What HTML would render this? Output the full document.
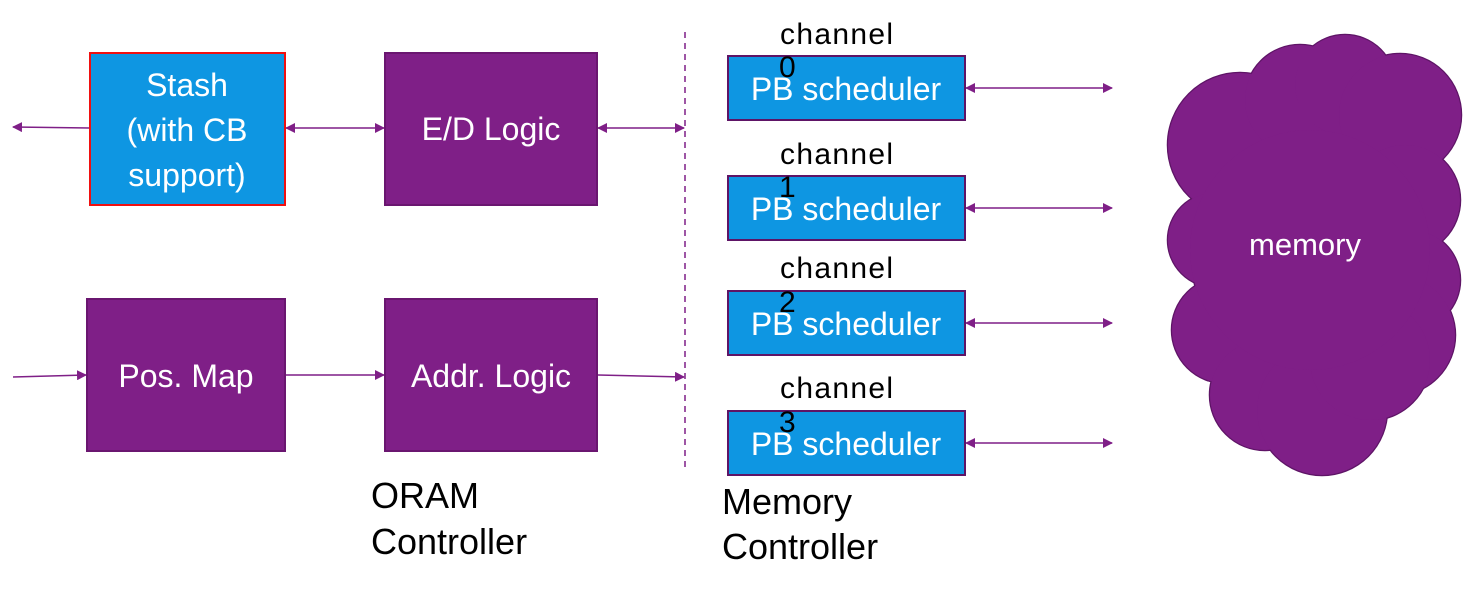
<!DOCTYPE html>
<html><head><meta charset="utf-8"><style>
body{margin:0;background:#fff;}
svg{display:block}
text{font-family:"Liberation Sans",sans-serif}
</style></head><body>
<svg width="1464" height="591" viewBox="0 0 1464 591">
<defs>
<marker id="a" markerWidth="10" markerHeight="10" refX="9" refY="5" orient="auto" markerUnits="userSpaceOnUse"><path d="M0,0 L10,5 L0,10 z" fill="#7f1f87"/></marker>
<marker id="b" markerWidth="10" markerHeight="10" refX="1" refY="5" orient="auto" markerUnits="userSpaceOnUse"><path d="M10,0 L0,5 L10,10 z" fill="#7f1f87"/></marker>
</defs>
<g stroke="#7f1f87" stroke-width="1.5" fill="none">
<line x1="90" y1="128" x2="13" y2="127" marker-end="url(#a)"/>
<line x1="286" y1="128" x2="384" y2="128" marker-start="url(#b)" marker-end="url(#a)"/>
<line x1="598" y1="128" x2="684" y2="128" marker-start="url(#b)" marker-end="url(#a)"/>
<line x1="13" y1="377" x2="86" y2="375" marker-end="url(#a)"/>
<line x1="286" y1="375" x2="384" y2="375" marker-end="url(#a)"/>
<line x1="598" y1="375" x2="684" y2="377" marker-end="url(#a)"/>
<line x1="966" y1="88" x2="1112" y2="88" marker-start="url(#b)" marker-end="url(#a)"/>
<line x1="966" y1="208" x2="1112" y2="208" marker-start="url(#b)" marker-end="url(#a)"/>
<line x1="966" y1="323" x2="1112" y2="323" marker-start="url(#b)" marker-end="url(#a)"/>
<line x1="966" y1="443" x2="1112" y2="443" marker-start="url(#b)" marker-end="url(#a)"/>
<line x1="685" y1="32" x2="685" y2="472" stroke-dasharray="6,5"/>
</g>
<rect x="90" y="53" width="195" height="152" fill="#0e96e2" stroke="#f01010" stroke-width="2"/>
<rect x="385" y="53" width="212" height="152" fill="#7f1f87" stroke="#6a1670" stroke-width="2"/>
<rect x="87" y="299" width="198" height="152" fill="#7f1f87" stroke="#6a1670" stroke-width="2"/>
<rect x="385" y="299" width="212" height="152" fill="#7f1f87" stroke="#6a1670" stroke-width="2"/>
<g fill="#fff" font-size="32" text-anchor="middle">
<text x="187" y="96">Stash</text>
<text x="187" y="141">(with CB</text>
<text x="187" y="186">support)</text>
<text x="491" y="140">E/D Logic</text>
<text x="186" y="387">Pos. Map</text>
<text x="491" y="387">Addr. Logic</text>
</g>
<g stroke="#5e1466" stroke-width="2.5" fill="#7f1f87">
<circle cx="1240" cy="145" r="72"/><circle cx="1300" cy="100" r="55"/><circle cx="1345" cy="85" r="50"/>
<circle cx="1400" cy="115" r="61"/><circle cx="1405" cy="200" r="55"/><circle cx="1410" cy="280" r="50"/>
<circle cx="1395" cy="335" r="60"/><circle cx="1215" cy="240" r="47"/><circle cx="1225" cy="330" r="53"/>
<circle cx="1265" cy="395" r="55"/><circle cx="1322" cy="410" r="65"/><circle cx="1370" cy="360" r="60"/>
<circle cx="1310" cy="250" r="120"/>
</g>
<g fill="#7f1f87">
<circle cx="1240" cy="145" r="72"/><circle cx="1300" cy="100" r="55"/><circle cx="1345" cy="85" r="50"/>
<circle cx="1400" cy="115" r="61"/><circle cx="1405" cy="200" r="55"/><circle cx="1410" cy="280" r="50"/>
<circle cx="1395" cy="335" r="60"/><circle cx="1215" cy="240" r="47"/><circle cx="1225" cy="330" r="53"/>
<circle cx="1265" cy="395" r="55"/><circle cx="1322" cy="410" r="65"/><circle cx="1370" cy="360" r="60"/>
<circle cx="1310" cy="250" r="120"/>
</g>
<text x="1305" y="255" fill="#fff" font-size="31" text-anchor="middle">memory</text>
<g>
<rect x="728" y="56" width="237" height="64" fill="#0e96e2" stroke="#5e1466" stroke-width="2"/>
<rect x="728" y="176" width="237" height="64" fill="#0e96e2" stroke="#5e1466" stroke-width="2"/>
<rect x="728" y="291" width="237" height="64" fill="#0e96e2" stroke="#5e1466" stroke-width="2"/>
<rect x="728" y="411" width="237" height="64" fill="#0e96e2" stroke="#5e1466" stroke-width="2"/>
</g>
<g fill="#fff" font-size="32" text-anchor="middle">
<text x="846" y="100">PB scheduler</text>
<text x="846" y="220">PB scheduler</text>
<text x="846" y="335">PB scheduler</text>
<text x="846" y="455">PB scheduler</text>
</g>
<g fill="#000" font-size="30">
<text x="780" y="44" textLength="113">channel</text><text x="779" y="77">0</text>
<text x="780" y="164" textLength="113">channel</text><text x="779" y="197">1</text>
<text x="780" y="278" textLength="113">channel</text><text x="779" y="312">2</text>
<text x="780" y="398" textLength="113">channel</text><text x="779" y="432">3</text>
<text x="371" y="508" font-size="36">ORAM</text>
<text x="371" y="554" font-size="36">Controller</text>
<text x="722" y="514" font-size="36">Memory</text>
<text x="722" y="559" font-size="36">Controller</text>
</g>
</svg>
</body></html>
